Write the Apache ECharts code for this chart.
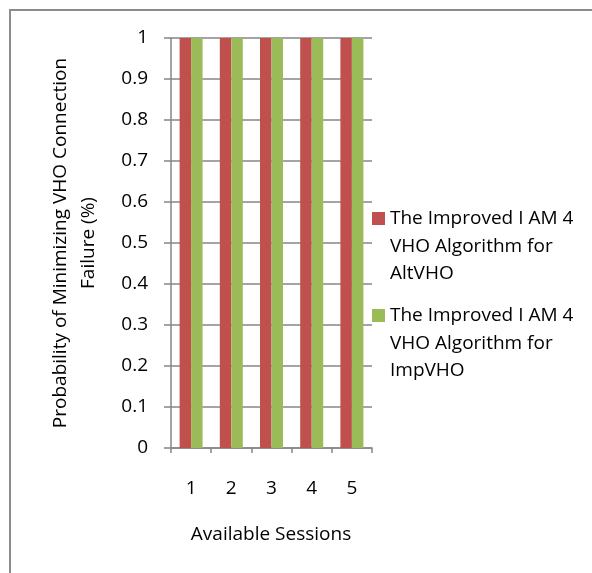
<!DOCTYPE html>
<html>
<head>
<meta charset="utf-8">
<script src="https://cdn.jsdelivr.net/npm/echarts@6/dist/echarts.min.js"></script>
<style>html,body{margin:0;padding:0;background:#fff}#c{width:592px;height:573px}</style>
</head>
<body>
<div id="c"></div>
<script>
const categories = ['1', '2', '3', '4', '5'];
const seriesNames = [
  'The Improved I AM 4 VHO Algorithm for AltVHO',
  'The Improved I AM 4 VHO Algorithm for ImpVHO'
];
const legendLines = [
  'The Improved I AM 4\nVHO Algorithm for\nAltVHO',
  'The Improved I AM 4\nVHO Algorithm for\nImpVHO'
];
const altVHO = [1, 1, 1, 1, 1];
const impVHO = [1, 1, 1, 1, 1];
const xTitle = 'Available Sessions';
const yTitle = 'Probability of Minimizing VHO Connection\nFailure (%)';

const FONT = 'Open Sans';
const FS = 19;
const GRAY = '#868686';
const chart = echarts.init(document.getElementById('c'), null, {renderer: 'canvas'});
const LH = 27.5;
const IH = 2.5 * LH;
chart.setOption({
  backgroundColor: '#fff',
  animation: false,
  textStyle: {fontFamily: FONT},
  grid: {left: 171, right: 220, top: 38, bottom: 125, containLabel: false},
  xAxis: {
    type: 'category',
    data: categories,
    axisLine: {lineStyle: {color: GRAY, width: 1.5}},
    axisTick: {show: true, length: 5, lineStyle: {color: GRAY, width: 1.5}},
    axisLabel: {color: '#000', fontSize: FS, fontFamily: FONT, margin: 31}
  },
  yAxis: {
    type: 'value',
    min: 0, max: 1, interval: 0.1,
    axisLine: {show: true, lineStyle: {color: GRAY, width: 1.5}},
    axisTick: {show: true, length: 7, lineStyle: {color: GRAY, width: 1.5}},
    splitLine: {show: true, lineStyle: {color: GRAY, width: 1.5}},
    axisLabel: {color: '#000', fontSize: FS, fontFamily: FONT, margin: 23,
      formatter: v => String(+v.toFixed(1))}
  },
  legend: {
    orient: 'vertical',
    left: 372, top: 212 - (3 * LH - IH) / 2,
    padding: 0,
    itemWidth: 13, itemHeight: IH,
    itemGap: 97 - 3 * LH,
    icon: 'path://M0,0H13V13H0Z M0,' + IH + 'L0.001,' + IH,
    formatter: name => legendLines[seriesNames.indexOf(name)],
    textStyle: {color: '#000', fontSize: FS, fontFamily: FONT, lineHeight: LH}
  },
  series: [
    {name: seriesNames[0], type: 'bar', data: altVHO, barWidth: 11.5, barGap: '0%',
     itemStyle: {color: '#C0504D'}},
    {name: seriesNames[1], type: 'bar', data: impVHO, barWidth: 11.5, barGap: '0%',
     itemStyle: {color: '#9BBB59'}}
  ],
  graphic: [
    {type: 'rect', shape: {x: 10, y: 10, width: 800, height: 800},
     style: {fill: 'none', stroke: '#8c8c8c', lineWidth: 2}, silent: true},
    {type: 'text', x: 271, y: 535,
     style: {text: xTitle, fontSize: FS, fontFamily: FONT, fill: '#000', align: 'center', verticalAlign: 'middle'}},
    {type: 'text', x: 75, y: 243, rotation: Math.PI / 2,
     style: {text: yTitle, fontSize: FS, fontFamily: FONT, fill: '#000', align: 'center', verticalAlign: 'middle', lineHeight: 28}}
  ]
});
</script>
</body>
</html>
